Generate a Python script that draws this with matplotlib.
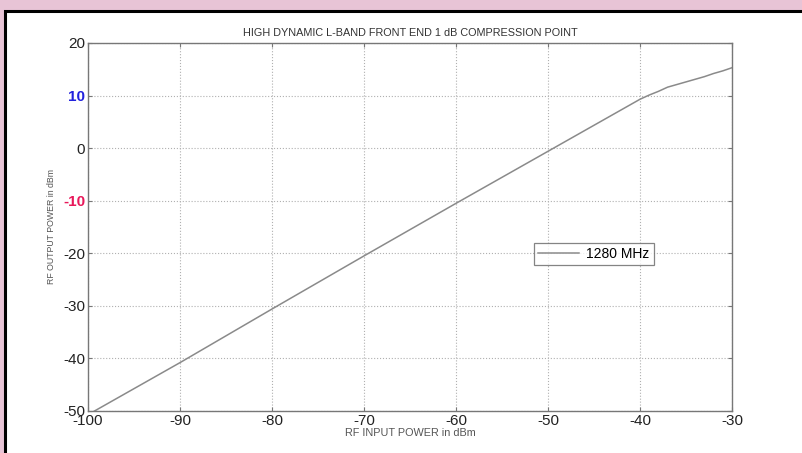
import matplotlib.pyplot as plt
from matplotlib.patches import Rectangle

plt.rcParams['axes.unicode_minus'] = False

# data
p_in = [-100, -90, -80, -70, -60, -50, -40, -39, -38, -37, -36, -35, -34, -33, -32, -31, -30]
p_out = [-50.7, -40.8, -30.6, -20.5, -10.5, -0.6, 9.3, 10.1, 10.8, 11.6, 12.1, 12.6, 13.1, 13.6, 14.2, 14.7, 15.3]
xticks = [-100, -90, -80, -70, -60, -50, -40, -30]
yticks = [20, 10, 0, -10, -20, -30, -40, -50]
ytick_colors = {10: '#2222dd', -10: '#e8185a'}

fig = plt.figure(figsize=(8.03, 4.53), dpi=100)
fig.patch.set_facecolor('#e8c4d6')
W, H = 803.0, 453.0
fig.patches.append(Rectangle((5.5 / W, -0.01), 1.0, 1.01 - 10.5 / H, transform=fig.transFigure,
                             facecolor='white', edgecolor='black', linewidth=2.2, zorder=-10))

ax = fig.add_axes([88 / W, 1 - 411 / H, 644 / W, 368 / H])
ax.set_zorder(5)
ax.plot(p_in, p_out, color='#8a8a8a', linewidth=1.1, label='1280 MHz')
ax.set_xlim(-100, -30)
ax.set_ylim(-50, 20)
ax.set_xticks(xticks)
ax.set_yticks(yticks)
ax.grid(True, color='#b0b0b0', linestyle=':', linewidth=0.8)
ax.tick_params(direction='in', length=3, color='#777777', top=True, right=True,
               labelsize=11, labelcolor='#222222', pad=2)
for lab in ax.get_xticklabels() + ax.get_yticklabels():
    lab.set_fontfamily('Liberation Sans')
for lab, v in zip(ax.get_yticklabels(), yticks):
    if v in ytick_colors:
        lab.set_color(ytick_colors[v])
        lab.set_fontweight('bold')
for s in ax.spines.values():
    s.set_color('#777777')
    s.set_linewidth(1.0)

ax.set_title('HIGH DYNAMIC L-BAND FRONT END 1 dB COMPRESSION POINT', fontsize=7.8,
             color='#333333', family='Liberation Sans', pad=5)
ax.set_xlabel('RF INPUT POWER in dBm', fontsize=7.8, color='#555555',
              family='Liberation Sans', labelpad=0)
ax.set_ylabel('RF OUTPUT POWER in dBm', fontsize=6.3, color='#555555',
              family='Liberation Sans', labelpad=5)

leg = ax.legend(loc='center left', bbox_to_anchor=(0.681, 0.427),
                frameon=True, fancybox=False, handlelength=3, borderpad=0.3,
                handletextpad=0.5, prop={'family': 'Liberation Sans', 'size': 10})
leg.get_frame().set_edgecolor('#666666')
leg.get_frame().set_linewidth(0.9)

fig.savefig('out.png', dpi=100, facecolor=fig.get_facecolor())
